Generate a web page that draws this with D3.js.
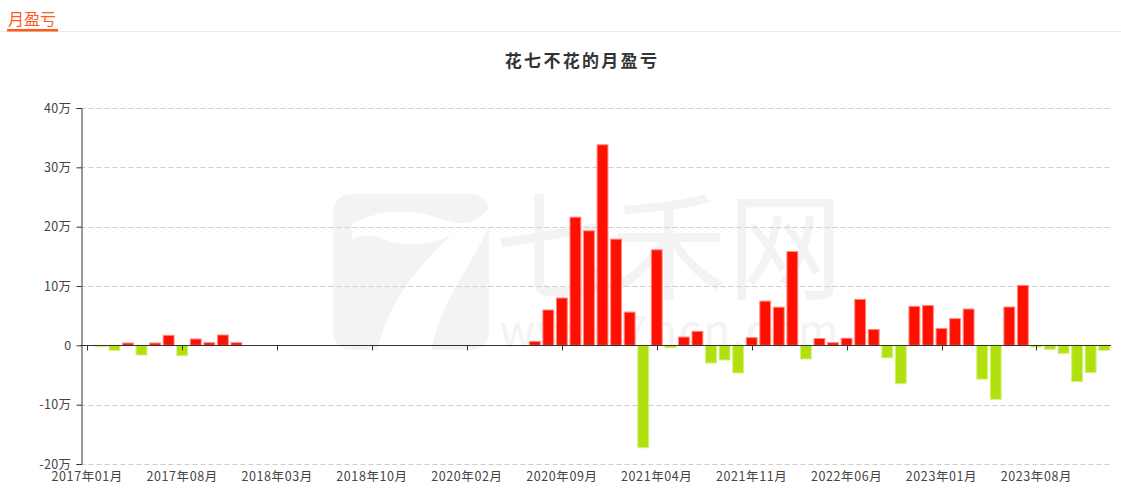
<!DOCTYPE html>
<html>
<head>
<meta charset="utf-8">
<script src="https://cdn.jsdelivr.net/npm/d3@7"></script>
<style>
  html, body { margin: 0; padding: 0; background: #fff; }
  svg { display: block; font-family: "Noto Sans CJK SC", "Noto Sans", sans-serif; }
</style>
</head>
<body>
<svg id="chart" width="1121" height="504"></svg>
<script>
// ---------- data ----------
const pageTitle = "月盈亏";
const chartTitle = "花七不花的月盈亏";

const categories = [
  "2017年01月","2017年02月","2017年03月","2017年04月","2017年05月","2017年06月","2017年07月",
  "2017年08月","2017年09月","2017年10月","2017年11月","2017年12月","2018年01月","2018年02月",
  "2018年03月","2018年04月","2018年05月","2018年06月","2018年07月","2018年08月","2018年09月",
  "2018年10月","2018年11月","2018年12月","2019年01月","2019年02月","2019年03月","2019年04月",
  "2020年02月","2020年03月","2020年04月","2020年05月","2020年06月","2020年07月","2020年08月",
  "2020年09月","2020年10月","2020年11月","2020年12月","2021年01月","2021年02月","2021年03月",
  "2021年04月","2021年05月","2021年06月","2021年07月","2021年08月","2021年09月","2021年10月",
  "2021年11月","2021年12月","2022年01月","2022年02月","2022年03月","2022年04月","2022年05月",
  "2022年06月","2022年07月","2022年08月","2022年09月","2022年10月","2022年11月","2022年12月",
  "2023年01月","2023年02月","2023年03月","2023年04月","2023年05月","2023年06月","2023年07月",
  "2023年08月","2023年09月","2023年10月","2023年11月","2023年12月","2024年01月"
];

// monthly profit / loss, in 万 (10,000 yuan)
const profit = [
  0, -0.22, -0.84, 0.39, -1.63, 0.39, 1.69,
  -1.74, 1.07, 0.45, 1.74, 0.45, 0, 0,
  0, 0, 0, 0, 0, 0, 0,
  0, 0, 0, 0, 0, 0, 0,
  0, 0, 0, 0, 0, 0.67, 5.96,
  7.98, 21.6, 19.3, 33.8, 17.9, 5.6, -17.25,
  16.1, -0.4, 1.4, 2.36, -2.98, -2.47, -4.66,
  1.3, 7.45, 6.43, 15.8, -2.3, 1.15, 0.45,
  1.2, 7.75, 2.68, -2.1, -6.46, 6.57, 6.72,
  2.84, 4.5, 6.12, -5.7, -9.1, 6.46, 10.1,
  -0.28, -0.67, -1.35, -6.1, -4.6, -0.84
];

const yTicks = [-20, -10, 0, 10, 20, 30, 40];
const yTickLabels = ["-20万", "-10万", "0", "10万", "20万", "30万", "40万"];
const xLabelEvery = 7;

// ---------- layout ----------
const svg = d3.select("#chart");
const W = 1121;
const plot = { left: 80.5, right: 1111, top: 108, bottom: 464 };

const x = d3.scaleBand().domain(categories).range([plot.left, plot.right]).paddingInner(0.2).paddingOuter(0.1);
const y = d3.scaleLinear().domain([-20, 40]).range([plot.bottom, plot.top]);

// ---------- header ----------
svg.append("line").attr("x1", 0).attr("x2", W).attr("y1", 31.5).attr("y2", 31.5)
  .attr("stroke", "#ebebeb").attr("stroke-width", 1);
svg.append("text").attr("x", 8).attr("y", 25).text(pageTitle)
  .attr("font-size", 16).attr("fill", "#ff5a1f");
svg.append("rect").attr("x", 7).attr("y", 29).attr("width", 51).attr("height", 2.5).attr("fill", "#ff5a1f");

// ---------- watermark ----------
const wm = svg.append("g").attr("fill", "#f3f3f3");
wm.append("rect").attr("x", 333).attr("y", 194).attr("width", 156).attr("height", 156).attr("rx", 18);
wm.append("path")
  .attr("d", "M352,224 C390,204 420,212 445,220 C470,228 480,218 489,208 L489,226 C470,270 440,300 432,350 L378,350 C388,300 420,265 452,234 C430,248 400,246 380,238 C365,233 355,236 352,242 Z")
  .attr("fill", "#ffffff");
wm.append("text").attr("x", 669).attr("y", 290).attr("text-anchor", "middle")
  .attr("font-size", 116).text("七禾网");
wm.append("text").attr("x", 670).attr("y", 347).attr("text-anchor", "middle")
  .attr("font-size", 44).attr("letter-spacing", 2).text("www.7hcn.com");

// ---------- title ----------
svg.append("text").attr("x", 582).attr("y", 67).attr("text-anchor", "middle")
  .attr("font-size", 17).attr("font-weight", "bold").attr("letter-spacing", 2.3)
  .attr("fill", "#333").text(chartTitle);

// ---------- grid ----------
svg.append("g").selectAll("line").data(yTicks.filter(d => d !== 0)).join("line")
  .attr("x1", plot.left).attr("x2", plot.right)
  .attr("y1", d => Math.round(y(d)) + 0.5).attr("y2", d => Math.round(y(d)) + 0.5)
  .attr("stroke", "#cccccc").attr("stroke-dasharray", "5,3");

// ---------- y axis ----------
const yAxis = d3.axisLeft(y).tickValues(yTicks).tickSize(5).tickPadding(5)
  .tickFormat((d, i) => yTickLabels[i]);
const gy = svg.append("g").attr("transform", `translate(${Math.round(plot.left) + 0.5},0)`).call(yAxis);
gy.select(".domain").attr("stroke", "#333");
gy.selectAll(".tick line").attr("stroke", "#333");
gy.selectAll(".tick text").attr("font-size", 12.5).attr("fill", "#444")
  .attr("letter-spacing", 0.4)
  .attr("font-family", "'Noto Sans CJK SC', sans-serif");

// ---------- bars ----------
const bars = categories.map((c, i) => ({ c, v: profit[i] }));
svg.append("g").selectAll("rect").data(bars.filter(d => d.v !== 0)).join("rect")
  .attr("x", d => x(d.c))
  .attr("width", x.bandwidth())
  .attr("y", d => y(Math.max(0, d.v)))
  .attr("height", d => Math.abs(y(d.v) - y(0)))
  .attr("fill", d => d.v >= 0 ? "#ff0f00" : "#b0e00e")
  .attr("stroke", d => d.v >= 0 ? "#ff8a80" : "#d6f07a")
  .attr("stroke-width", 1);

// ---------- x axis (line at zero, labels at bottom) ----------
const zeroY = Math.round(y(0)) + 0.5;
svg.append("line").attr("x1", plot.left).attr("x2", plot.right)
  .attr("y1", zeroY).attr("y2", zeroY).attr("stroke", "#333");
const labelCats = categories.filter((c, i) => i % xLabelEvery === 0);
svg.append("g").selectAll("line").data(labelCats).join("line")
  .attr("x1", d => Math.round(x(d) + x.bandwidth() / 2) + 0.5)
  .attr("x2", d => Math.round(x(d) + x.bandwidth() / 2) + 0.5)
  .attr("y1", zeroY).attr("y2", zeroY + 5).attr("stroke", "#333");
svg.append("g").selectAll("text").data(labelCats).join("text")
  .attr("x", d => x(d) + x.bandwidth() / 2)
  .attr("y", 481)
  .attr("text-anchor", "middle")
  .attr("font-size", 12.5).attr("fill", "#444")
  .attr("letter-spacing", 0.6)
  .text(d => d);
</script>
</body>
</html>
